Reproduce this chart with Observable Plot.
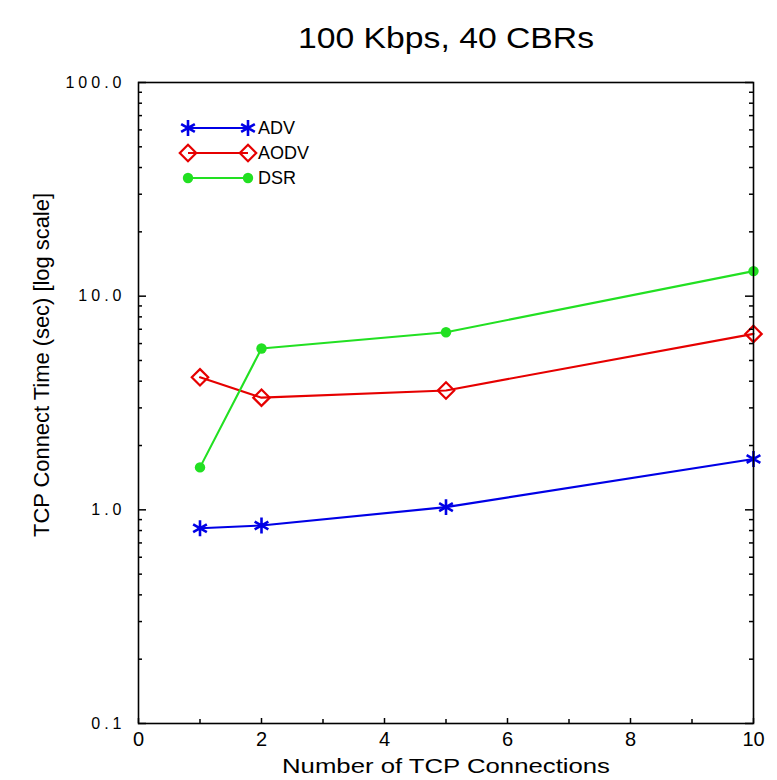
<!DOCTYPE html>
<html><head><meta charset="utf-8">
<script src="https://cdn.jsdelivr.net/npm/d3@7"></script>
<script src="https://cdn.jsdelivr.net/npm/@observablehq/plot@0.6"></script>
<style>body{margin:0;background:#fff} svg{display:block}</style>
</head><body><div id="chart"></div>
<script>
const titleText = "100 Kbps, 40 CBRs";
const xLabel = "Number of TCP Connections";
const yLabel = "TCP Connect Time (sec) [log scale]";
const connections = [1, 2, 5, 10];
const advTime = [0.82, 0.845, 1.03, 1.73];
const aodvTime = [4.17, 3.35, 3.62, 6.66];
const dsrTime = [1.58, 5.69, 6.78, 13.1];
const seriesNames = ["ADV", "AODV", "DSR"];
const seriesColors = ["#0000e6", "#e60000", "#22e022"];
const seriesSymbols = ["asterisk", "diamond2", "circle"];
const xTickValues = [0, 2, 4, 6, 8, 10];
const xMinorTickValues = [1, 3, 5, 7, 9];
const yTickValues = [0.1, 1, 10, 100];
const yTickLabels = ["0.1", "1.0", "10.0", "100.0"];
const yMinorTickValues = [0.2, 0.3, 0.4, 0.5, 0.6, 0.7, 0.8, 0.9, 2, 3, 4, 5, 6, 7, 8, 9, 20, 30, 40, 50, 60, 70, 80, 90];

const font = "'Liberation Sans', Arial, Helvetica, sans-serif";
const W = 777, H = 780, ML = 138, MR = 24, MT = 82, MB = 57;
const FW = W - ML - MR, FH = H - MT - MB;

const seriesData = [advTime, aodvTime, dsrTime];
const rows = [];
seriesData.forEach((vals, s) => vals.forEach((v, i) => rows.push({series: seriesNames[s], x: connections[i], y: v})));
const symbolStyle = {
  ADV: {r: 7.5, strokeWidth: 2.6, fill: "none"},
  AODV: {r: 7.4, strokeWidth: 2.2, fill: "none"},
  DSR: {r: 5.2, strokeWidth: 0, fill: "fill"}
};

const dotMarks = seriesNames.map((name, s) => {
  const st = symbolStyle[name];
  const color = seriesColors[s];
  return Plot.dot(rows.filter(d => d.series === name), {
    x: "x", y: "y", symbol: seriesSymbols[s], r: st.r,
    stroke: st.fill === "fill" ? "none" : color,
    fill: st.fill === "fill" ? color : "none",
    strokeWidth: st.strokeWidth
  });
});

const yTick = (vals, len, side) => Plot.tickY(vals, {y: d => d, stroke: "#000", strokeWidth: 1.5,
  insetLeft: side === "left" ? 0 : FW - len, insetRight: side === "left" ? FW - len : 0});
const xTick = (vals, len) => Plot.tickX(vals, {x: d => d, stroke: "#000", strokeWidth: 1.5, insetTop: FH - len, insetBottom: 0});

const chart = Plot.plot({
  width: W, height: H,
  marginLeft: ML, marginRight: MR, marginTop: MT, marginBottom: MB,
  style: {fontFamily: font, color: "#000", background: "#fff", overflow: "visible"},
  x: {domain: [0, 10], axis: null},
  y: {type: "log", domain: [0.1, 100], axis: null},
  color: {domain: seriesNames, range: seriesColors},
  marks: [
    Plot.line(rows, {x: "x", y: "y", z: "series", stroke: "series", strokeWidth: 2.1}),
    ...dotMarks,
    yTick(yTickValues, 8, "left"),
    yTick(yMinorTickValues, 4, "left"),
    yTick(yTickValues, 8, "right"),
    yTick(yMinorTickValues, 4, "right"),
    xTick(xTickValues, 5),
    xTick(xMinorTickValues, 4),
    Plot.text(yTickValues, {y: d => d, text: (d, i) => yTickLabels[i], frameAnchor: "left", textAnchor: "end",
      dx: -13, fontSize: 16, lineAnchor: "middle", fill: "#000"}),
    Plot.text(xTickValues, {x: d => d, text: d => String(d), frameAnchor: "bottom", dy: 8, fontSize: 20,
      lineAnchor: "top", fill: "#000"}),
    Plot.frame({stroke: "#000", strokeWidth: 1.6}),
    Plot.text([titleText], {text: d => d, frameAnchor: "top", dy: -44, fontSize: 30, lineAnchor: "middle", textAnchor: "middle"}),
    Plot.text([xLabel], {text: d => d, frameAnchor: "bottom", dy: 43, fontSize: 21, lineAnchor: "middle", textAnchor: "middle"}),
    Plot.text([yLabel], {text: d => d, frameAnchor: "left", rotate: -90, textAnchor: "middle", dx: -97, dy: -38, fontSize: 22, lineAnchor: "middle"})
  ]
});

const svg = d3.select(chart);
// stretch texts to the reference's wide lettering
const stretch = {[titleText]: 296, [xLabel]: 328, [yLabel]: 344};
svg.selectAll("text").each(function () {
  const t = this.textContent;
  if (stretch[t]) d3.select(this).attr("textLength", stretch[t]).attr("lengthAdjust", "spacingAndGlyphs");
  if (yTickLabels.includes(t)) d3.select(this).attr("letter-spacing", "4px");
});

// Legend
const legend = svg.append("g").attr("font-family", font).attr("text-anchor", "start");
const legendX1 = 188, legendX2 = 248, legendTextX = 258, legendY0 = 128, legendDy = 25;
seriesNames.forEach((name, s) => {
  const y = legendY0 + s * legendDy;
  const color = seriesColors[s];
  const st = symbolStyle[name];
  const sym = {asterisk: d3.symbolAsterisk, diamond2: d3.symbolDiamond2, circle: d3.symbolCircle}[seriesSymbols[s]];
  const path = d3.symbol(sym, Math.PI * st.r * st.r)();
  legend.append("line").attr("x1", legendX1).attr("x2", legendX2).attr("y1", y).attr("y2", y)
    .attr("stroke", color).attr("stroke-width", 2.1);
  [legendX1, legendX2].forEach(x => {
    legend.append("path").attr("d", path).attr("transform", `translate(${x},${y})`)
      .attr("fill", st.fill === "fill" ? color : "none")
      .attr("stroke", st.fill === "fill" ? "none" : color)
      .attr("stroke-width", st.strokeWidth);
  });
  legend.append("text").attr("x", legendTextX).attr("y", y).attr("dy", "0.36em")
    .attr("font-size", 18).attr("fill", "#000").attr("text-anchor", "start").text(name);
});

document.getElementById("chart").appendChild(chart);
</script>
</body></html>
